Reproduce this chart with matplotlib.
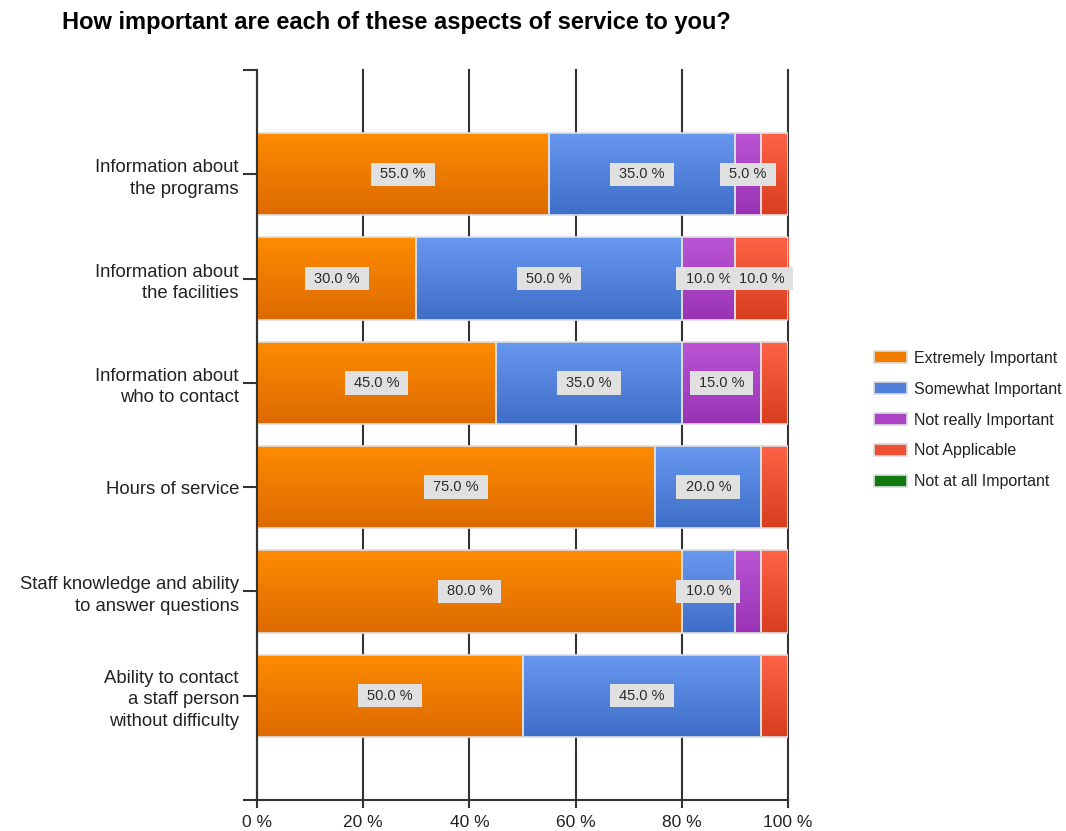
import matplotlib
matplotlib.use("Agg")
import matplotlib.pyplot as plt
import numpy as np
from matplotlib.colors import LinearSegmentedColormap
from matplotlib.patches import Patch
from matplotlib.path import Path

# ---------------- data ----------------
categories = [
    "Information about\nthe programs",
    "Information about\nthe facilities",
    "Information about\nwho to contact",
    "Hours of service",
    "Staff knowledge and ability\nto answer questions",
    "Ability to contact\na staff person\nwithout difficulty",
]
series_names = ["Extremely Important", "Somewhat Important", "Not really Important",
                "Not Applicable", "Not at all Important"]
extremely = [55, 30, 45, 75, 80, 50]
somewhat = [35, 50, 35, 20, 10, 45]
not_really = [5, 10, 15, 0, 5, 0]
not_applicable = [5, 10, 5, 5, 5, 5]
not_at_all = [0, 0, 0, 0, 0, 0]
series_values = [extremely, somewhat, not_really, not_applicable, not_at_all]
# (row, series) pairs whose value label is not shown in the reference
hidden_labels = {(0, 3), (2, 3), (3, 3), (4, 2), (4, 3), (5, 3)}
x_ticks = [0, 20, 40, 60, 80, 100]
x_tick_labels = ["0 %", "20 %", "40 %", "60 %", "80 %", "100 %"]
title = "How important are each of these aspects of service to you?"

# ---------------- style ----------------
top_colors = ["#FF8C00", "#6797EE", "#BC55D4", "#FF6347", "#228B22"]
bot_colors = ["#DC6A00", "#3F6EC8", "#9932B4", "#D93D1F", "#006400"]
mid_colors = ["#F07C00", "#5080DA", "#AA44C4", "#EE5033", "#107A10"]
axis_col = "#333333"
FONT = ["Liberation Sans", "DejaVu Sans"]
plt.rcParams["font.family"] = FONT

W, H = 1066, 831
fig = plt.figure(figsize=(W / 100, H / 100), dpi=100)
ax = fig.add_axes([257 / W, 1 - 800 / H, (788 - 257) / W, (800 - 70) / H])

y = np.arange(len(categories))
bar_h = 0.79
left = np.zeros(len(categories))
containers = []
for vals, mc in zip(series_values, mid_colors):
    c = ax.barh(y, vals, left=left, height=bar_h, color=mc, edgecolor="none", zorder=2)
    containers.append((c, left.copy()))
    left = left + np.array(vals)

# gradients
for si, (c, lf) in enumerate(containers):
    cmap = LinearSegmentedColormap.from_list(f"g{si}", [top_colors[si], bot_colors[si]])
    grad = np.linspace(0, 1, 64).reshape(-1, 1)
    for p in c.patches:
        if p.get_width() <= 0:
            continue
        x0, y0, w, h = p.get_x(), p.get_y(), p.get_width(), p.get_height()
        im = ax.imshow(grad, cmap=cmap, extent=[x0, x0 + w, y0 + h, y0], aspect="auto",
                       zorder=2.1, interpolation="bilinear")
        im.set_clip_path(p)

# light segment borders
left = np.zeros(len(categories))
for vals in series_values:
    v = np.array(vals)
    m = v > 0
    ax.barh(y[m], v[m], left=left[m], height=bar_h, fill=False, edgecolor="#DEDEDE",
            linewidth=1.2, zorder=2.2)
    left = left + v


def label_box(x0, y0, width, height, mutation_size):
    hp = 0.62 * mutation_size
    vp = 0.32 * mutation_size
    x0, y0 = x0 - hp, y0 - vp
    x1, y1 = x0 + width + 2 * hp, y0 + height + 2 * vp
    return Path([(x0, y0), (x1, y0), (x1, y1), (x0, y1), (x0, y0)],
                [Path.MOVETO, Path.LINETO, Path.LINETO, Path.LINETO, Path.CLOSEPOLY])


# value labels
for si, (c, lf) in enumerate(containers):
    vals = series_values[si]
    for ri, v in enumerate(vals):
        if v <= 0 or (ri, si) in hidden_labels:
            continue
        ax.text(lf[ri] + v / 2, y[ri], f"{v:.1f} %", ha="center", va="center",
                fontsize=10.5, color="#2A2A2A", zorder=5,
                bbox=dict(boxstyle=label_box, facecolor="#E0E0E0", edgecolor="none"))

# axes styling
ax.set_xlim(0, 100)
ax.set_ylim(len(categories), -1)
ax.set_xticks(x_ticks)
ax.set_xticklabels(x_tick_labels, fontsize=12.5, color="#222222")
ax.set_yticks(y)
ax.set_yticklabels(categories, fontsize=13.3, color="#222222", linespacing=1.35)
ax.set_yticks([-1, len(categories)], minor=True)
ax.tick_params(axis="y", which="both", direction="out", length=10, width=1.5,
               color=axis_col, pad=3)
ax.tick_params(axis="x", direction="out", length=6, width=1.5, color=axis_col, pad=5)
ax.grid(axis="x", color=axis_col, linewidth=1.5, zorder=0)
ax.grid(axis="y", visible=False)
ax.set_axisbelow(True)
for gl in ax.get_xgridlines():
    gl.set_clip_on(False)
for s in ["top", "right"]:
    ax.spines[s].set_visible(False)
for s in ["left", "bottom"]:
    ax.spines[s].set_color(axis_col)
    ax.spines[s].set_linewidth(1.5)

# legend
handles = [Patch(facecolor=mid_colors[i], edgecolor="#DDDDDD", linewidth=1.2)
           for i in range(len(series_names))]
fig.legend(handles, series_names, loc="center left",
           bbox_to_anchor=(874 / W, 1 - 420 / H), frameon=False, fontsize=11.5,
           handlelength=2.05, handleheight=0.78, handletextpad=0.45, labelspacing=1.0,
           borderpad=0, borderaxespad=0, labelcolor="#222222")

fig.text(62 / W, 1 - 22 / H, title, ha="left", va="center", fontsize=17,
         fontweight="bold", color="black")

fig.savefig("out.png", dpi=100)
